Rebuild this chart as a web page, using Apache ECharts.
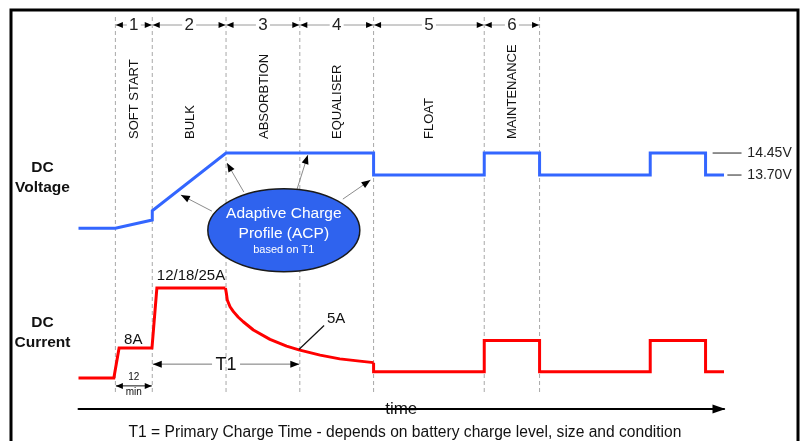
<!DOCTYPE html>
<html>
<head>
<meta charset="utf-8">
<script src="https://cdn.jsdelivr.net/npm/echarts@6/dist/echarts.min.js"></script>
<style>
html,body{margin:0;padding:0;background:#fff;}
#chart{width:803px;height:441px;}
</style>
</head>
<body>
<div id="chart"></div>
<script>
// ---- data (time in minutes, voltage in V, current in A) ----
const phaseBounds = [12, 24, 48, 72, 96, 132, 150];
const phaseNumbers = ['1', '2', '3', '4', '5', '6'];
const phaseNames = ['SOFT START', 'BULK', 'ABSORBTION', 'EQUALISER', 'FLOAT', 'MAINTENANCE'];

const voltTime  = [0, 12, 24, 24, 48, 96, 96, 132, 132, 150, 150, 186, 186, 204, 204, 210];
const voltValue = [11.89, 11.89, 12.17, 12.48, 14.45, 14.45, 13.70, 13.70, 14.45, 14.45, 13.70, 13.70, 14.45, 14.45, 13.70, 13.70];

const rampTime  = [0, 11.5, 13.2, 23.9, 25.5, 47.8];
const rampValue = [0, 0, 8, 8, 24, 24];
const decayTime  = [47.8, 48.1, 48.4, 49.3, 50.4, 52.0, 53.6, 56.9, 62.3, 67.7, 71.7, 78.6, 85.0, 91.5, 96];
const decayValue = [24, 22.6, 20.8, 19.0, 17.7, 16.2, 15.0, 12.8, 10.3, 8.5, 7.5, 6.1, 5.1, 4.5, 4.1];
const floatTime  = [96, 96, 132, 132, 150, 150, 186, 186, 204, 204, 210];
const floatValue = [4.1, 1.7, 1.7, 10, 10, 1.7, 1.7, 10, 10, 1.7, 1.7];

const voltLevels = [14.45, 13.70];
const voltLabels = ['14.45V', '13.70V'];
const currentLabels = ['8A', '12/18/25A', '5A'];

const FONT = "'Liberation Sans', Arial, sans-serif";
const BLUE = '#3366ff', RED = '#ff0000';

const zip = (a, b) => a.map((v, i) => [v, b[i]]);

const chart = echarts.init(document.getElementById('chart'), null, {renderer: 'canvas'});

const baseX = {type: 'value', min: 0, max: 210, show: false};
chart.setOption({
  animation: false,
  backgroundColor: '#fff',
  grid: [
    {left: 78.5, right: 79, top: 136.9, height: 102.7},
    {left: 78.5, right: 79, top: 273, height: 112.5},
    {left: 78.5, right: 79, top: 400, height: 9}
  ],
  xAxis: [
    Object.assign({gridIndex: 0}, baseX),
    Object.assign({gridIndex: 1}, baseX),
    {
      gridIndex: 2, type: 'value', min: 0, max: 210,
      axisLine: {show: true, symbol: ['none', 'triangle'], symbolSize: [9, 13], symbolOffset: [0, -5],
                 lineStyle: {color: '#000', width: 2}},
      axisTick: {show: false}, axisLabel: {show: false}, splitLine: {show: false},
      name: 'time', nameLocation: 'middle', nameGap: 0,
      nameTextStyle: {fontFamily: FONT, fontSize: 17, color: '#111', backgroundColor: '#fff',
                      padding: [0, 1], verticalAlign: 'middle'}
    }
  ],
  yAxis: [
    {gridIndex: 0, type: 'value', min: 11.5, max: 15, show: false},
    {gridIndex: 1, type: 'value', min: -2, max: 28, show: false},
    {gridIndex: 2, type: 'value', min: 0, max: 1, show: false}
  ],
  series: [
    {type: 'line', xAxisIndex: 0, yAxisIndex: 0, data: zip(voltTime, voltValue), symbol: 'none',
     lineStyle: {color: BLUE, width: 3, join: 'miter'}, z: 3},
    {type: 'line', xAxisIndex: 1, yAxisIndex: 1, data: zip(rampTime, rampValue), symbol: 'none',
     lineStyle: {color: RED, width: 3, join: 'miter'}, z: 3},
    {type: 'line', xAxisIndex: 1, yAxisIndex: 1, data: zip(decayTime, decayValue), symbol: 'none',
     lineStyle: {color: RED, width: 3, join: 'round'}, z: 3},
    {type: 'line', xAxisIndex: 1, yAxisIndex: 1, data: zip(floatTime, floatValue), symbol: 'none',
     lineStyle: {color: RED, width: 3, join: 'miter'}, z: 3}
  ]
});

// ---- annotations positioned through the axes ----
const px  = t => chart.convertToPixel({xAxisIndex: 0}, t);
const pyV = v => chart.convertToPixel({yAxisIndex: 0}, v);
const pyA = a => chart.convertToPixel({yAxisIndex: 1}, a);

const els = [];
function line(x1, y1, x2, y2, color, w, dash, z) {
  els.push({type: 'line', silent: true, z: z == null ? 5 : z,
    shape: {x1, y1, x2, y2},
    style: {stroke: color, lineWidth: w, lineDash: dash || null}});
}
function head(x2, y2, x1, y1, len, wid, color) {
  const a = Math.atan2(y2 - y1, x2 - x1), c = Math.cos(a), s = Math.sin(a);
  const bx = x2 - len * c, by = y2 - len * s;
  els.push({type: 'polygon', silent: true, z: 6,
    shape: {points: [[x2, y2], [bx - wid / 2 * s, by + wid / 2 * c], [bx + wid / 2 * s, by - wid / 2 * c]]},
    style: {fill: color}});
}
function arrow(x1, y1, x2, y2, color, headColor, len, wid) {
  line(x1, y1, x2, y2, color, 1);
  head(x2, y2, x1, y1, len, wid, headColor);
}
function text(str, x, y, size, opts) {
  opts = opts || {};
  els.push({type: 'text', silent: true, z: opts.z || 7, x, y, rotation: opts.rotation || 0,
    style: {text: str, fontFamily: FONT, fontSize: size, fontWeight: opts.bold ? 'bold' : 'normal',
            fill: opts.color || '#111', align: opts.align || 'center', verticalAlign: opts.va || 'middle'}});
}

// frame
els.push({type: 'rect', silent: true, z: 1, shape: {x: 11, y: 10, width: 787, height: 440},
          style: {fill: 'none', stroke: '#000', lineWidth: 3}});

// dashed phase boundaries
phaseBounds.forEach(b => line(px(b), 17, px(b), 393, '#a8a8a8', 1, [4, 3], 1));

// phase numbers with arrows, and rotated phase names
const rowY = 25;
for (let i = 0; i < phaseNumbers.length; i++) {
  const l = px(phaseBounds[i]) + 0.5, r = px(phaseBounds[i + 1]) - 0.5, m = (l + r) / 2;
  line(l, rowY, m - 7, rowY, '#9a9a9a', 1);
  line(m + 7, rowY, r, rowY, '#9a9a9a', 1);
  head(l, rowY, l + 10, rowY, 7, 6, '#000');
  head(r, rowY, r - 10, rowY, 7, 6, '#000');
  text(phaseNumbers[i], m, rowY + 0.5, 17, {color: '#222'});
  text(phaseNames[i], m + 1, 139, 13, {rotation: Math.PI / 2, align: 'left', color: '#111'});
}

// side titles
text('DC', 42.5, 168, 15.5, {bold: true});
text('Voltage', 42.5, 188, 15.5, {bold: true});
text('DC', 42.5, 323, 15.5, {bold: true});
text('Current', 42.5, 343, 15.5, {bold: true});

// voltage level labels with leader lines
line(px(206.3), pyV(voltLevels[0]), px(215.7), pyV(voltLevels[0]), '#222', 1);
line(px(211.1), pyV(voltLevels[1]), px(215.7), pyV(voltLevels[1]), '#222', 1);
text(voltLabels[0], px(217.6), pyV(voltLevels[0]), 14, {align: 'left', color: '#222'});
text(voltLabels[1], px(217.6), pyV(voltLevels[1]), 14, {align: 'left', color: '#222'});

// adaptive charge profile ellipse and its arrows
const ecx = px(66.8), ecy = pyV(11.82), erx = 76, ery = 41.5;
const targets = [[33.3, 13.02], [48.3, 14.11], [74.6, 14.38], [95.0, 13.53]];
const starts  = [[43.4, 12.47], [53.8, 13.12], [71.1, 13.22], [86.0, 12.88]];
targets.forEach((tg, i) => {
  arrow(px(starts[i][0]), pyV(starts[i][1]), px(tg[0]), pyV(tg[1]), '#8c8c8c', '#000', 9, 7);
});
els.push({type: 'ellipse', silent: true, z: 8, shape: {cx: ecx, cy: ecy, rx: erx, ry: ery},
          style: {fill: '#2f63ee', stroke: '#1a1a1a', lineWidth: 1.5}});
text('Adaptive Charge', ecx, ecy - 16, 15.5, {color: '#fff', z: 9});
text('Profile (ACP)', ecx, ecy + 4, 15.5, {color: '#fff', z: 9});
text('based on T1', ecx, ecy + 19.5, 11, {color: '#fff', z: 9});

// current annotations
text(currentLabels[0], px(17.8), pyA(10.2), 15);
text(currentLabels[1], px(36.6), pyA(27.3), 15);
text(currentLabels[2], px(83.8), pyA(15.8), 15);
line(px(71.7), pyA(7.6), px(79.9), pyA(14.0), '#111', 1.2);

// T1 arrow
const t1y = pyA(3.7), t1l = px(24) + 0.5, t1r = px(72) - 0.5, t1m = (t1l + t1r) / 2;
line(t1l, t1y, t1m - 14, t1y, '#777', 1);
line(t1m + 14, t1y, t1r, t1y, '#777', 1);
head(t1l, t1y, t1l + 10, t1y, 9, 7, '#000');
head(t1r, t1y, t1r - 10, t1y, 9, 7, '#000');
text('T1', t1m, t1y + 0.5, 18);

// 12 min arrow
const my = pyA(-2.1), ml = px(12) + 0.5, mr = px(24) - 0.5;
line(ml, my, mr, my, '#111', 1);
head(ml, my, ml + 10, my, 7, 6, '#000');
head(mr, my, mr - 10, my, 7, 6, '#000');
text('12', (ml + mr) / 2, pyA(0.1), 10);
text('min', (ml + mr) / 2, pyA(-3.7), 10);

// footnote
text('T1 = Primary Charge Time - depends on battery charge level, size and condition', 405, 433, 15.6, {color: '#111'});

chart.setOption({graphic: {elements: els}});
</script>
</body>
</html>
